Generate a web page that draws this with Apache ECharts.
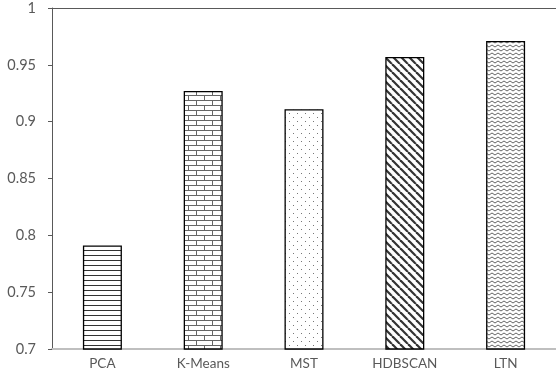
<!DOCTYPE html>
<html><head><meta charset="utf-8">
<script src="https://cdn.jsdelivr.net/npm/echarts@6/dist/echarts.min.js"></script>
<style>html,body{margin:0;padding:0;background:#fff}#c{width:556px;height:384px}</style>
</head><body><div id="c"></div>
<script>
const categories = ['PCA', 'K-Means', 'MST', 'HDBSCAN', 'LTN'];
const values = [0.791, 0.927, 0.911, 0.957, 0.971];
const yTicks = [0.7, 0.75, 0.8, 0.85, 0.9, 0.95, 1];

function mk(w, h, draw) {
  const c = document.createElement('canvas');
  c.width = w; c.height = h;
  const g = c.getContext('2d');
  g.fillStyle = '#fff'; g.fillRect(0, 0, w, h);
  draw(g);
  return { image: c, repeat: 'repeat' };
}
const patterns = [
  mk(8, 5, g => { g.fillStyle = '#333'; g.fillRect(0, 0, 8, 1); }),
  mk(16, 10, g => {
    g.fillStyle = '#666';
    g.fillRect(0, 0, 16, 1); g.fillRect(0, 5, 16, 1);
    g.fillRect(4, 0, 1, 5); g.fillRect(12, 5, 1, 5);
  }),
  mk(8, 8, g => { g.fillStyle = '#777'; g.fillRect(1, 1, 1, 1); g.fillRect(5, 5, 1, 1); }),
  mk(8, 8, g => {
    g.strokeStyle = '#333'; g.lineWidth = 2.2;
    for (let k = -8; k <= 8; k += 8) { g.beginPath(); g.moveTo(k, 0); g.lineTo(k + 8, 8); g.stroke(); }
  }),
  mk(6, 4, g => {
    g.strokeStyle = '#666'; g.lineWidth = 1;
    g.beginPath(); g.moveTo(0, 1); g.lineTo(3, 3); g.lineTo(6, 1); g.stroke();
  })
];

const chart = echarts.init(document.getElementById('c'));
chart.setOption({
  animation: false,
  grid: { left: 52, right: 0, top: 8, bottom: 35 },
  xAxis: [{
    type: 'category', data: categories,
    axisLine: { lineStyle: { color: '#bfbfbf', width: 2 } },
    axisTick: { show: false },
    axisLabel: { color: '#595959', fontFamily: 'Lato', fontSize: 13.5, margin: 8 }
  }, {
    type: 'category', data: categories, position: 'top',
    axisLine: { show: true, lineStyle: { color: '#595959', width: 1 } },
    axisTick: { show: false }, axisLabel: { show: false }
  }],
  yAxis: {
    type: 'value', min: 0.7, max: 1, interval: 0.05,
    axisLine: { show: true, lineStyle: { color: '#595959' } },
    axisTick: { show: true, inside: false, length: 4, lineStyle: { color: '#595959' } },
    splitLine: { show: false },
    axisLabel: { color: '#595959', fontFamily: 'Lato', fontSize: 14.5, margin: 16,
      formatter: v => { const t = yTicks.find(x => Math.abs(x - v) < 1e-9); return t === undefined ? '' : String(t); } }
  },
  series: [{
    type: 'bar', barWidth: 39, xAxisIndex: 0,
    data: values.map((v, i) => ({ value: v, itemStyle: { color: patterns[i] } })),
    itemStyle: { borderColor: '#000', borderWidth: 1.3 }
  }]
});
</script></body></html>
